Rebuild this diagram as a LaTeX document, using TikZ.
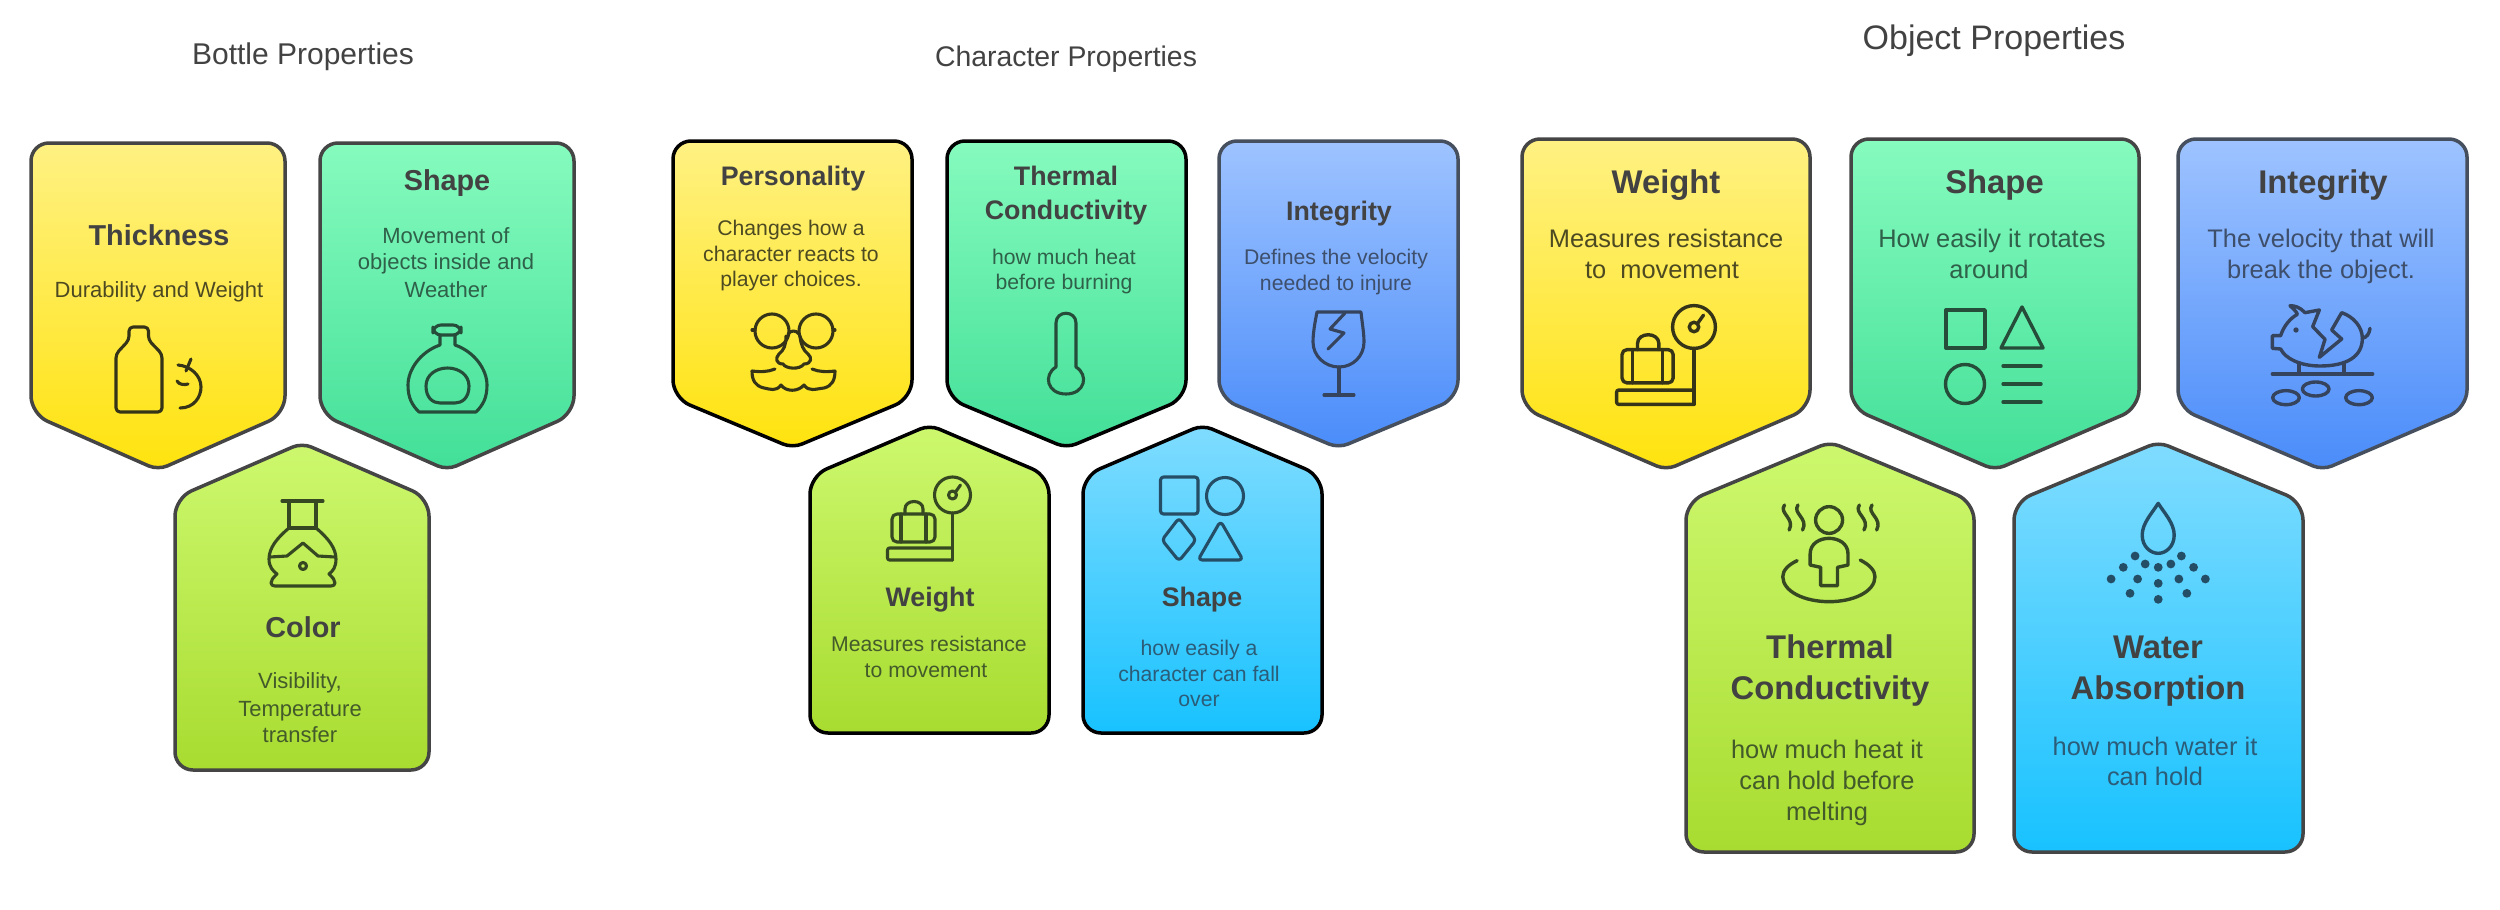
\documentclass[tikz,border=0pt]{standalone}
\usepackage{fontspec}
\setmainfont{Liberation Sans}
\definecolor{tit}{HTML}{424242}
\definecolor{grayline}{HTML}{454545}
\definecolor{blueline}{HTML}{454F5E}
\definecolor{yd}{HTML}{4D4A22}\definecolor{gd}{HTML}{2F6049}\definecolor{ld}{HTML}{435A2A}\definecolor{bd}{HTML}{3E4F6C}\definecolor{cd}{HTML}{2B5C78}
\definecolor{y1}{HTML}{FFF183}\definecolor{y2}{HTML}{FFE30E}
\definecolor{g1}{HTML}{86FBBE}\definecolor{g2}{HTML}{42DF98}
\definecolor{l1}{HTML}{CDF86E}\definecolor{l2}{HTML}{A8DC30}
\definecolor{b1}{HTML}{9EC3FF}\definecolor{b2}{HTML}{4A8CFA}
\definecolor{c1}{HTML}{80DCFF}\definecolor{c2}{HTML}{18C2FF}
\tikzset{
 x=.5pt,y=-.5pt,
 ic/.style={line width=1.55pt,line join=round,line cap=round},
 icbig/.style={line width=1.7pt,line join=round,line cap=round},
 head/.style={anchor=base,inner sep=0pt,text=tit},
 lab/.style={anchor=base,inner sep=0pt,align=center},
 btitle/.style={head,font=\fontsize{14.4}{16}\selectfont\bfseries},
 ctitle/.style={head,font=\fontsize{13.4}{16}\selectfont\bfseries},
 otitle/.style={head,font=\fontsize{16.4}{18}\selectfont\bfseries},
 bdesc/.style={lab,font=\fontsize{11}{13}\selectfont},
 cdesc/.style={lab,font=\fontsize{10.6}{13}\selectfont},
 odesc/.style={lab,font=\fontsize{12.7}{15}\selectfont},
 sec/.style={anchor=center,inner sep=0pt,text=tit},
}
% l r top side tip c1 c2 line
\newcommand{\carddown}[8]{\draw[line width=1.75pt,draw=#8,top color=#6,bottom color=#7]
 (#1,{#3+100}) [rounded corners=9pt] -- (#1,#3) -- (#2,#3) [rounded corners=9pt] -- (#2,#4) [rounded corners=5pt] -- ({(#1+#2)/2},#5) [rounded corners=9pt] -- (#1,#4) [sharp corners] -- cycle;}
% l r tip side bottom
\newcommand{\cardup}[8]{\draw[line width=1.75pt,draw=#8,top color=#6,bottom color=#7]
 (#1,{#5-60}) [rounded corners=9pt] -- (#1,#4) [rounded corners=5pt] -- ({(#1+#2)/2},#3) [rounded corners=9pt] -- (#2,#4) [rounded corners=9pt] -- (#2,#5) -- (#1,#5) [sharp corners] -- cycle;}
\newcommand{\weighticon}[3]{\begin{scope}[shift={(#1,#2)},scale=#3]
 \draw (0,0) circle[radius=18];
 \draw (0,0) circle[radius=4];
 \draw (3,-3) -- (8,-10);
 \draw (0,18) -- (0,65);
 \draw[rounded corners=1pt] (0,53) -- (-65,53) -- (-65,65) -- (0,65);
 \draw[rounded corners=2.5pt] (-60.5,19) rectangle (-17.5,47);
 \draw (-51.5,19) -- (-51.5,47) (-26.5,19) -- (-26.5,47);
 \draw (-47.5,19) -- (-47.5,14) .. controls (-47.5,4) and (-29.5,4) .. (-29.5,14) -- (-29.5,19);
\end{scope}}
\begin{document}
\begin{tikzpicture}
\useasboundingbox (0,0) rectangle (2500,910);
\fill[white] (0,0) rectangle (2500,910);
% section titles
\node[sec,font=\fontsize{15}{18}\selectfont] (secb) at (303,57) {Bottle Properties};
\node[sec,font=\fontsize{14.2}{18}\selectfont] (secc) at (1066,59) {Character Properties};
\node[sec,font=\fontsize{17}{20}\selectfont] (seco) at (1994,41) {Object Properties};
% ---- bottle cards
\carddown{31}{285}{143}{414}{470}{y1}{y2}{grayline}
\carddown{320}{574}{143}{414}{470}{g1}{g2}{grayline}
\cardup{175}{429}{443}{498}{770}{l1}{l2}{grayline}
\node[btitle] (bt1) at (159,245) {Thickness};
\node[bdesc,text=yd] (bd1) at (159,297) {Durability and Weight};
\node[btitle] (bt2) at (447,190) {Shape};
\node[bdesc,text=gd] (bd2a) at (446,243) {Movement of};
\node[bdesc,text=gd] (bd2b) at (446,269) {objects inside and};
\node[bdesc,text=gd] (bd2c) at (446,297) {Weather};
\node[btitle] (bt3) at (303,637) {Color};
\node[bdesc,text=ld] (bd3a) at (300,688) {Visibility,};
\node[bdesc,text=ld] (bd3b) at (300,716) {Temperature};
\node[bdesc,text=ld] (bd3c) at (300,742) {transfer};
% bottle icon
\begin{scope}[ic,draw=yd!70!black]
 \draw[rounded corners=2pt] (116,412) -- (116,354) -- (129,340) -- (129,327) -- (148.5,327) -- (148.5,340) -- (162,354) -- (162,412) -- cycle;
 \draw (180,408) .. controls (194,408) and (201,397) .. (201,387) .. controls (201,375) and (190,366) .. (178,365);
 \draw (186,371) -- (191,359);
 \draw (177,381) .. controls (179,385) and (185,385) .. (188,384);
\end{scope}
\begin{scope}[ic,draw=gd!80!black]
 \draw[rounded corners=4pt] (433,325) rectangle (461,335);
 \draw (440,335) -- (440,345) .. controls (420,352) and (408,370) .. (408,385) .. controls (408,398) and (412,405) .. (419,412) -- (476,412) .. controls (483,405) and (487,398) .. (487,385) .. controls (487,370) and (475,352) .. (455,345) -- (455,335);
 \draw (426,386) .. controls (426,375) and (436,368) .. (447.5,368) .. controls (459,368) and (469,375) .. (469,386) .. controls (469,398) and (462,403) .. (455,403) -- (440,403) .. controls (433,403) and (426,398) .. (426,386) -- cycle;
\end{scope}
\begin{scope}[ic,draw=ld!80!black]
 \draw (282,501) -- (323,501);
 \draw (289,501) -- (289,528) -- (316,528) -- (316,501);
 \draw (289,528) .. controls (277,538) and (269,548) .. (269,559) .. controls (269,567) and (273,571) .. (277,574) .. controls (273,578) and (271,580) .. (271,583) .. controls (271,585) and (273,586) .. (275,586) -- (331,586) .. controls (333,586) and (335,585) .. (335,583) .. controls (335,580) and (333,578) .. (329,574) .. controls (333,571) and (336,567) .. (336,559) .. controls (336,548) and (328,538) .. (316,528);
 \draw (270,557) -- (287,556) -- (303,543) -- (318,556) -- (335,557);
 \draw (303,566) circle[radius=3.5];
\end{scope}
% ---- character cards
\carddown{673}{912}{141}{398}{448}{y1}{y2}{black}
\carddown{947}{1186}{141}{398}{448}{g1}{g2}{black}
\carddown{1219}{1458}{141}{398}{448}{b1}{b2}{blueline}
\cardup{810}{1049}{425}{476}{733}{l1}{l2}{black}
\cardup{1083}{1322}{425}{476}{733}{c1}{c2}{black}
\node[ctitle] (ct1) at (793,185) {Personality};
\node[cdesc,text=yd] (cd1a) at (791,235) {Changes how a};
\node[cdesc,text=yd] (cd1b) at (791,261) {character reacts to};
\node[cdesc,text=yd] (cd1c) at (791,286) {player choices.};
\node[ctitle] (ct2a) at (1066,185) {Thermal};
\node[ctitle] (ct2b) at (1066,219) {Conductivity};
\node[cdesc,text=gd] (cd2a) at (1064,264) {how much heat};
\node[cdesc,text=gd] (cd2b) at (1064,289) {before burning};
\node[ctitle] (ct3) at (1339,220) {Integrity};
\node[cdesc,text=bd] (cd3a) at (1336,264) {Defines the velocity};
\node[cdesc,text=bd] (cd3b) at (1336,290) {needed to injure};
\node[ctitle] (ct4) at (930,606) {Weight};
\node[cdesc,text=ld] (cd4a) at (929,651) {Measures resistance};
\node[cdesc,text=ld] (cd4b) at (926,677) {to movement};
\node[ctitle] (ct5) at (1202,606) {Shape};
\node[cdesc,text=cd] (cd5a) at (1199,655) {how easily a};
\node[cdesc,text=cd] (cd5b) at (1199,681) {character can fall};
\node[cdesc,text=cd] (cd5c) at (1199,706) {over};
% glasses icon
\begin{scope}[ic,draw=yd!70!black]
 \draw (772,331) circle[radius=17] (816,331) circle[radius=17];
 \draw (752,330) -- (755,330) (833,330) -- (835,330);
 \draw (788,334) .. controls (791,330) and (796,330) .. (799,334);
 \draw (786,336) .. controls (786,345) and (784,350) .. (779,354) .. controls (775,358) and (776,364) .. (783,364) .. controls (786,369) and (800,370) .. (804,364) .. controls (812,364) and (812,357) .. (808,354) .. controls (803,350) and (801,345) .. (800,336);
 \draw (775,369) .. controls (768,372) and (760,372) .. (752,371) .. controls (752,380) and (755,386) .. (764,388) .. controls (770,389) and (776,392) .. (781,385) .. controls (786,392) and (798,392) .. (804,385) .. controls (809,392) and (815,389) .. (824,388) .. controls (832,386) and (835,380) .. (835,371) .. controls (827,372) and (819,372) .. (812,369);
\end{scope}
% thermometer
\begin{scope}[ic,draw=gd!80!black]
 \draw (1056,367) -- (1056,323) .. controls (1056,310) and (1076,310) .. (1076,323) -- (1076,367) .. controls (1089,375) and (1085,394) .. (1066,394) .. controls (1047,394) and (1043,375) .. (1056,367) -- cycle;
\end{scope}
% wine glass
\begin{scope}[ic,draw=bd!85!black]
 \draw (1317,312) -- (1361,312) .. controls (1362,322) and (1364,333) .. (1364,342) .. controls (1364,356) and (1353,367) .. (1339,367) .. controls (1325,367) and (1313,356) .. (1313,342) .. controls (1313,333) and (1315,322) .. (1317,312) -- cycle;
 \draw (1339,367) -- (1339,395) (1324,395) -- (1354,395);
 \draw (1345,313) -- (1330,329) -- (1344,333) -- (1328,349);
\end{scope}
\begin{scope}[ic,draw=ld!80!black]
 \weighticon{952.5}{495}{1}
\end{scope}
\begin{scope}[ic,draw=cd!85!black]
 \draw[rounded corners=1.5pt] (1160.5,477) rectangle (1198,514);
 \draw (1225,496) circle[radius=18.5];
 \draw[rounded corners=1.8pt] (1179,518) -- (1196,540) -- (1179,561) -- (1162,540) -- cycle;
 \draw[rounded corners=2pt] (1220.5,521) -- (1243,560) -- (1198,560) -- cycle;
\end{scope}
% ---- object cards
\carddown{1522}{1810}{139}{408}{470}{y1}{y2}{grayline}
\carddown{1851}{2139}{139}{408}{470}{g1}{g2}{grayline}
\carddown{2178}{2467}{139}{408}{470}{b1}{b2}{blueline}
\cardup{1686}{1974}{442}{502}{852}{l1}{l2}{grayline}
\cardup{2014}{2303}{442}{502}{852}{c1}{c2}{grayline}
\node[otitle] (ot1) at (1666,193) {Weight};
\node[odesc,text=yd] (od1a) at (1666,247) {Measures resistance};
\node[odesc,text=yd] (od1b) at (1662,278) {to\ \ movement};
\node[otitle] (ot2) at (1994.5,193) {Shape};
\node[odesc,text=gd] (od2a) at (1992,247) {How easily it rotates};
\node[odesc,text=gd] (od2b) at (1989,278) {around};
\node[otitle] (ot3) at (2323,193) {Integrity};
\node[odesc,text=bd] (od3a) at (2321,247) {The velocity that will};
\node[odesc,text=bd] (od3b) at (2321,278) {break the object.};
\node[otitle] (ot4a) at (1830,658) {Thermal};
\node[otitle] (ot4b) at (1830,699) {Conductivity};
\node[odesc,text=ld] (od4a) at (1827,758) {how much heat it};
\node[odesc,text=ld] (od4b) at (1827,789) {can hold before};
\node[odesc,text=ld] (od4c) at (1827,820) {melting};
\node[otitle] (ot5a) at (2158,658) {Water};
\node[otitle] (ot5b) at (2158,699) {Absorption};
\node[odesc,text=cd] (od5a) at (2155,755) {how much water it};
\node[odesc,text=cd] (od5b) at (2155,785) {can hold};
\begin{scope}[icbig,draw=yd!70!black]
 \weighticon{1694}{327}{1.19}
\end{scope}
\begin{scope}[icbig,draw=gd!80!black]
 \draw (1946,310) rectangle (1985,348);
 \draw (2022,307) -- (2043,348) -- (2001,348) -- cycle;
 \draw (1965,384) circle[radius=19.5];
 \draw (2003,366) -- (2041,366) (2003,384) -- (2041,384) (2003,402) -- (2041,402);
\end{scope}
% piggy
\begin{scope}[icbig,draw=bd!85!black,shift={(2160,130)},scale=1/3]
 \draw (478,682) -- (495,628) -- (458,590) -- (478,540) -- (435,548) .. controls (420,532) and (405,527) .. (390,527) .. controls (400,537) and (410,545) .. (412,553) .. controls (390,565) and (370,590) .. (362,617) -- (337,617) -- (337,655) -- (362,657) .. controls (375,685) and (420,708) .. (480,708) .. controls (560,708) and (607,680) .. (607,625) .. controls (607,590) and (580,560) .. (545,548) -- (515,600) -- (545,627) -- cycle;
 \fill[bd!85!black] (408,600) circle[radius=8];
 \draw (607,625) .. controls (620,622) and (628,612) .. (630,595);
 \draw (337,732) -- (638,732);
 \draw (417,698) -- (417,732) (552,698) -- (552,732);
 \draw (378,803) ellipse[x radius=40,y radius=21] (467,777) ellipse[x radius=40,y radius=21] (597,803) ellipse[x radius=40,y radius=21];
\end{scope}
% heat person
\begin{scope}[icbig,draw=ld!80!black,shift={(1670,430)},xscale=1/2.376,yscale=1/3]
 \draw (378,270) ellipse[x radius=32,y radius=40];
 \draw (358,467) -- (398,467) -- (398,412) -- (423,405) -- (423,372) .. controls (423,340) and (400,325) .. (378,325) .. controls (356,325) and (333,340) .. (333,372) -- (333,405) -- (358,412) -- cycle;
 \draw (302,392) .. controls (280,405) and (268,422) .. (268,440) .. controls (268,485) and (320,515) .. (378,515) .. controls (436,515) and (487,485) .. (487,440) .. controls (487,422) and (475,405) .. (452,390);
 \foreach \sx in {0,32,178,208}{
  \draw ({272+\sx},225) .. controls ({258+\sx},250) and ({298+\sx},265) .. ({283+\sx},300);
 }
\end{scope}
% drop
\begin{scope}[icbig,draw=cd!85!black,shift={(1670,430)},xscale=1/2.376,yscale=1/3]
 \draw (1160,220) .. controls (1145,250) and (1122,280) .. (1122,315) .. controls (1122,350) and (1142,370) .. (1160,370) .. controls (1178,370) and (1198,350) .. (1198,315) .. controls (1198,280) and (1175,250) .. (1160,220) -- cycle;
\end{scope}
\foreach \dx/\dy in {1105/378,1215/378,1077/412,1129/402,1160/412,1190/402,1244/412,1048/447,1111/447,1160/460,1209/447,1272/447,1093/490,1228/490,1160/508}{
 \fill[cd!85!black] ({\dx/2.376+1670},{\dy/3+430}) circle[radius=4.4];
}
\end{tikzpicture}
\end{document}
